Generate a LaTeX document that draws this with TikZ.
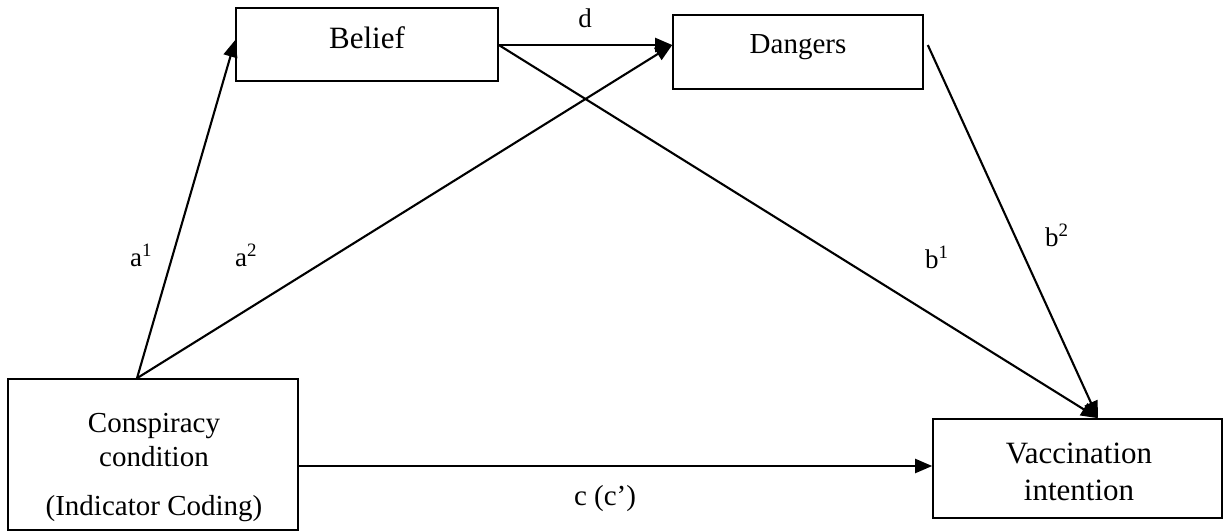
\documentclass[tikz,border=0pt]{standalone}
\usepackage{fontspec}
\setmainfont{Liberation Serif}
\usetikzlibrary{arrows.meta,calc}
\begin{document}
\begin{tikzpicture}[x=1pt,y=-1pt,
  box/.style={draw,line width=1.6pt,rectangle,inner sep=0pt},
  conn/.style={line width=2.1pt,-{Triangle[length=17pt,width=14pt]}},
  big/.style={font=\fontsize{31}{37}\selectfont,inner sep=0pt},
  mid/.style={font=\fontsize{29}{34}\selectfont,inner sep=0pt},
  lab/.style={font=\fontsize{27}{32}\selectfont,inner sep=0pt}]
\useasboundingbox (0,0) rectangle (1224,531);
% boxes
\node[box,minimum width=262pt,minimum height=73pt] (belief) at (367,44.5) {};
\node[box,minimum width=250pt,minimum height=74pt] (dangers) at (798,52) {};
\node[box,minimum width=290pt,minimum height=151pt] (consp) at (153,454.5) {};
\node[box,minimum width=289pt,minimum height=99pt] (vacc) at (1077.5,468.5) {};
% box texts
\node[big,anchor=base] (belieft) at (367,48) {Belief};
\node[mid,anchor=base] (dangerst) at (798,53) {Dangers};
\node[mid,anchor=base] (ct1) at (154,432) {Conspiracy};
\node[mid,anchor=base] (ct2) at (154,466) {condition};
\node[mid,anchor=base] (ct3) at (154,515) {(Indicator Coding)};
\node[big,anchor=base] (vt1) at (1079,463) {Vaccination};
\node[big,anchor=base] (vt2) at (1079,500) {intention};
% connector end points
\coordinate (cs) at ($(consp.north)+(-16,0)$);
\coordinate (bw) at ($(belief.west)+(0,-4.5)$);
\coordinate (dw) at ($(dangers.west)+(0,-7)$);
\coordinate (be) at ($(belief.east)+(0,0.5)$);
\coordinate (de) at ($(dangers.east)+(4,-7)$);
\coordinate (vt) at ($(vacc.north)+(20.5,0)$);
\coordinate (cy) at (0,466);
% connectors
\draw[conn] (cs) -- (bw);
\draw[conn] (cs) -- (dw);
\draw[conn] (be) -- (dw);
\draw[conn] (be) -- (vt);
\draw[conn] (de) -- (vt);
\draw[conn] (consp.east |- cy) -- (vacc.west |- cy);
% labels
\node[lab,anchor=base] (ld) at (585,27) {d};
\node[lab,anchor=base west] (la1) at (130,266) {a\textsuperscript{1}};
\node[lab,anchor=base west] (la2) at (235,266) {a\textsuperscript{2}};
\node[lab,anchor=base west] (lb1) at (925,268) {b\textsuperscript{1}};
\node[lab,anchor=base west] (lb2) at (1045,246) {b\textsuperscript{2}};
\node[mid,anchor=base] (lc) at (605,505) {c (c’)};
\end{tikzpicture}
\end{document}
